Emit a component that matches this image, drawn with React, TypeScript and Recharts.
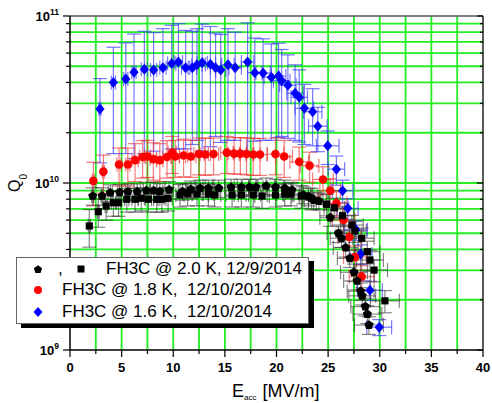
import React from 'react';
import { ScatterChart, Scatter, XAxis, YAxis, CartesianGrid, ErrorBar } from 'recharts';

const FONT = '"Liberation Sans", Arial, sans-serif';

// axis ticks, grid
const xTicks = [0, 2.5, 5, 7.5, 10, 12.5, 15, 17.5, 20, 22.5, 25, 27.5, 30, 32.5, 35, 37.5, 40];
const xLabels = [0, 5, 10, 15, 20, 25, 30, 35, 40];
const xGrid = [2.5, 5, 7.5, 10, 12.5, 15, 17.5, 20, 22.5, 25, 27.5, 30, 32.5, 35, 37.5];
const yDecades = [1e9, 1e10, 1e11];
const yTicks = [1e9, 2e9, 3e9, 4e9, 5e9, 6e9, 7e9, 8e9, 9e9, 1e10, 2e10, 3e10, 4e10, 5e10, 6e10, 7e10, 8e10, 9e10, 1e11];
const yGrid = [2e9, 3e9, 4e9, 5e9, 6e9, 7e9, 8e9, 9e9, 1e10, 2e10, 3e10, 4e10, 5e10, 6e10, 7e10, 8e10, 9e10];

// FH3C @ 2.0 K (pentagons)
const k20aE = [2.2, 3.1, 3.9, 4.8, 5.6, 6.5, 7.4, 8.1, 8.7, 9.6, 10.9, 11.7, 12.6, 13.4, 14.4, 15.6, 16.6, 17.4, 18.0, 19.0, 19.9, 20.8, 21.5, 22.6, 23.1, 23.6, 24.1, 25.2, 26.0, 26.3, 26.7, 27.1, 27.5, 27.8, 28.15, 28.3, 28.6, 28.8, 28.95];
const k20aQ = [8.36e9, 8.36e9, 8.75e9, 8.8e9, 8.87e9, 8.87e9, 9.0e9, 9.0e9, 8.9e9, 9.1e9, 8.9e9, 9.17e9, 9.3e9, 9.3e9, 9.3e9, 9.43e9, 9.43e9, 9.43e9, 9.43e9, 9.6e9, 9.43e9, 9.3e9, 9.08e9, 8.5e9, 8.3e9, 7.9e9, 7.8e9, 6.2e9, 5.0e9, 4.67e9, 4.1e9, 3.54e9, 2.92e9, 2.59e9, 2.25e9, 2.11e9, 1.82e9, 1.64e9, 1.41e9];
const k20aErrQ = [1.0e9, 1.0e9, 1.0e9, 1.0e9, 1.0e9, 1.0e9, 1.1e9, 1.1e9, 1.0e9, 1.1e9, 1.0e9, 1.1e9, 1.1e9, 1.1e9, 1.1e9, 1.1e9, 1.1e9, 1.1e9, 1.1e9, 1.1e9, 1.1e9, 1.1e9, 1.0e9, 1.0e9, 1.0e9, 0.9e9, 0.9e9, 0.7e9, 0.6e9, 0.55e9, 0.5e9, 0.42e9, 0.35e9, 0.3e9, 0.27e9, 0.25e9, 0.22e9, 0.2e9, 0.17e9];
const k20aErrE = [0.1, 0.1, 0.2, 0.2, 0.2, 0.3, 0.3, 0.3, 0.3, 0.4, 0.4, 0.5, 0.5, 0.5, 0.6, 0.6, 0.7, 0.7, 0.7, 0.8, 0.8, 0.8, 0.9, 0.9, 0.9, 0.9, 1.0, 1.0, 1.1, 1.1, 1.2, 1.2, 1.3, 1.3, 1.3, 1.3, 1.4, 1.4, 1.4];

// FH3C @ 2.0 K (squares)
const k20bE = [1.87, 2.74, 3.5, 4.2, 4.7, 5.5, 6.3, 6.9, 7.6, 8.4, 8.9, 9.5, 10.65, 11.4, 12.3, 13.4, 14.0, 15.7, 16.6, 17.75, 18.6, 19.9, 20.8, 21.4, 22.4, 23.4, 24.85, 25.6, 26.4, 27.3, 27.6, 28.25, 28.8, 29.05, 29.45, 30.5];
const k20bQ = [5.53e9, 6.73e9, 7.28e9, 7.62e9, 7.62e9, 7.99e9, 7.99e9, 8.1e9, 7.99e9, 7.99e9, 7.99e9, 8.1e9, 8.48e9, 8.59e9, 8.59e9, 8.59e9, 8.48e9, 8.48e9, 8.48e9, 8.48e9, 8.36e9, 8.48e9, 8.59e9, 8.59e9, 8.36e9, 8.1e9, 7.46e9, 7.11e9, 6.37e9, 5.6e9, 5.16e9, 4.67e9, 3.88e9, 3.46e9, 3.01e9, 1.97e9];
const k20bErrQ = [1.4e9, 1.3e9, 1.3e9, 1.3e9, 1.3e9, 1.3e9, 1.3e9, 1.3e9, 1.3e9, 1.3e9, 1.3e9, 1.3e9, 1.3e9, 1.3e9, 1.3e9, 1.3e9, 1.3e9, 1.3e9, 1.3e9, 1.3e9, 1.3e9, 1.3e9, 1.3e9, 1.3e9, 1.3e9, 1.2e9, 1.1e9, 1.0e9, 0.9e9, 0.8e9, 0.75e9, 0.7e9, 0.6e9, 0.5e9, 0.45e9, 0.3e9];
const k20bErrE = [0.1, 0.1, 0.1, 0.2, 0.2, 0.2, 0.3, 0.3, 0.3, 0.3, 0.4, 0.4, 0.4, 0.5, 0.5, 0.5, 0.6, 0.6, 0.7, 0.7, 0.7, 0.8, 0.8, 0.8, 0.9, 0.9, 1.0, 1.0, 1.1, 1.1, 1.1, 1.2, 1.2, 1.3, 1.3, 1.4];

// FH3C @ 1.8 K
const k18E = [2.26, 3.23, 4.75, 5.6, 6.3, 7.04, 7.5, 8.07, 8.7, 9.4, 9.9, 10.2, 11.0, 11.7, 12.5, 13.1, 13.9, 15.2, 15.9, 16.5, 17.1, 17.75, 18.4, 19.9, 20.75, 22.2, 23.2, 24.5, 25.2, 25.8, 26.5, 27.05, 27.6, 28.25];
const k18Q = [1.03e10, 1.17e10, 1.29e10, 1.29e10, 1.37e10, 1.43e10, 1.44e10, 1.39e10, 1.37e10, 1.43e10, 1.52e10, 1.44e10, 1.46e10, 1.44e10, 1.49e10, 1.48e10, 1.49e10, 1.52e10, 1.5e10, 1.5e10, 1.49e10, 1.48e10, 1.48e10, 1.49e10, 1.44e10, 1.34e10, 1.27e10, 1.05e10, 0.9e10, 0.755e10, 0.6e10, 0.475e10, 0.36e10, 0.275e10];
const k18ErrQ = [0.3e10, 0.3e10, 0.33e10, 0.33e10, 0.35e10, 0.36e10, 0.36e10, 0.35e10, 0.35e10, 0.36e10, 0.38e10, 0.36e10, 0.37e10, 0.36e10, 0.37e10, 0.37e10, 0.37e10, 0.38e10, 0.37e10, 0.37e10, 0.37e10, 0.37e10, 0.37e10, 0.37e10, 0.36e10, 0.3e10, 0.26e10, 0.2e10, 0.16e10, 0.13e10, 0.1e10, 0.08e10, 0.06e10, 0.045e10];
const k18ErrE = [0.1, 0.1, 0.2, 0.2, 0.3, 0.3, 0.3, 0.3, 0.3, 0.4, 0.4, 0.4, 0.4, 0.5, 0.5, 0.5, 0.5, 0.6, 0.6, 0.6, 0.7, 0.7, 0.7, 0.8, 0.8, 0.9, 0.9, 1.0, 1.0, 1.0, 1.1, 1.1, 1.1, 1.2];

// FH3C @ 1.6 K
const k16E = [2.9, 4.2, 5.4, 6.2, 7.2, 8.1, 9.0, 9.85, 10.5, 11.2, 11.85, 12.3, 12.8, 13.6, 14.1, 14.6, 15.3, 16.0, 17.2, 17.9, 18.7, 19.5, 20.2, 20.5, 21.1, 21.8, 22.2, 22.7, 23.5, 24.0, 24.96, 25.8, 26.4, 26.9, 27.7, 28.15, 29.05, 29.95];
const k16Q = [2.77e10, 4.0e10, 4.2e10, 4.6e10, 4.8e10, 4.75e10, 4.9e10, 5.2e10, 5.3e10, 4.9e10, 4.9e10, 5.1e10, 5.25e10, 5.15e10, 4.9e10, 4.75e10, 5.1e10, 4.9e10, 5.3e10, 4.58e10, 4.55e10, 4.3e10, 4.37e10, 4.1e10, 3.85e10, 3.45e10, 3.26e10, 2.8e10, 2.67e10, 2.19e10, 1.67e10, 1.21e10, 0.9e10, 0.705e10, 0.524e10, 0.376e10, 0.228e10, 0.137e10];
const k16ErrQ = [1.45e10, 2.5e10, 2.7e10, 3.2e10, 3.3e10, 3.2e10, 3.5e10, 3.6e10, 3.7e10, 3.3e10, 3.2e10, 3.3e10, 3.7e10, 3.5e10, 3.0e10, 3.0e10, 3.3e10, 3.1e10, 3.8e10, 2.8e10, 2.75e10, 2.5e10, 2.5e10, 2.2e10, 2.0e10, 1.65e10, 1.5e10, 1.1e10, 1.0e10, 0.65e10, 0.38e10, 0.24e10, 0.14e10, 0.1e10, 0.07e10, 0.05e10, 0.03e10, 0.015e10];
const k16ErrE = [0.1, 0.2, 0.2, 0.2, 0.3, 0.3, 0.3, 0.4, 0.4, 0.4, 0.4, 0.5, 0.5, 0.5, 0.5, 0.5, 0.6, 0.6, 0.6, 0.7, 0.7, 0.7, 0.7, 0.8, 0.8, 0.8, 0.8, 0.9, 0.9, 0.9, 1.1, 0.8, 1.0, 1.0, 1.1, 1.1, 1.2, 1.2];

const rows = (e: number[], q: number[], eq: number[], ee: number[]) =>
  e.map((x, i) => ({ x, y: q[i], ey: eq[i], ex: ee[i] }));

const pentData = rows(k20aE, k20aQ, k20aErrQ, k20aErrE);
const squareData = rows(k20bE, k20bQ, k20bErrQ, k20bErrE);
const redData = rows(k18E, k18Q, k18ErrQ, k18ErrE);
const blueData = rows(k16E, k16Q, k16ErrQ, k16ErrE);

const pentPoints = (cx: number, cy: number, r: number) =>
  [0, 1, 2, 3, 4]
    .map((i) => {
      const a = -Math.PI / 2 + (i * 2 * Math.PI) / 5;
      return `${cx + r * Math.cos(a)},${cy + r * Math.sin(a)}`;
    })
    .join(' ');

const Pentagon = (p: any) => <polygon points={pentPoints(p.cx, p.cy, 4.8)} fill="#000" />;
const Square = (p: any) => <rect x={p.cx - 3.6} y={p.cy - 3.6} width={7.2} height={7.2} fill="#000" />;
const Dot = (p: any) => <circle cx={p.cx} cy={p.cy} r={4.3} fill="#ff0000" />;
const Diamond = (p: any) => (
  <polygon points={`${p.cx},${p.cy - 5.5} ${p.cx + 4.6},${p.cy} ${p.cx},${p.cy + 5.5} ${p.cx - 4.6},${p.cy}`} fill="#0000ff" />
);

const isMajorY = (v: number) => yDecades.includes(v);

const BottomTick = ({ x, y, payload }: any) => {
  const major = xLabels.includes(payload.value);
  return (
    <g>
      <line x1={x} y1={y} x2={x} y2={y + (major ? 7 : 4)} stroke="#000" strokeWidth={1.2} />
      {major && (
        <text x={x} y={y + 21.5} textAnchor="middle" fontSize={13} fontWeight="bold" fontFamily={FONT} fill="#000">
          {payload.value}
        </text>
      )}
    </g>
  );
};

const TopTick = ({ x, y, payload }: any) => {
  const major = xLabels.includes(payload.value);
  return <line x1={x} y1={y} x2={x} y2={y + (major ? 5 : 3)} stroke="#555" strokeWidth={1.2} />;
};

const LeftTick = ({ x, y, payload }: any) => {
  const major = isMajorY(payload.value);
  const exp = Math.round(Math.log10(payload.value));
  return (
    <g>
      <line x1={x - (major ? 7 : 4)} y1={y} x2={x} y2={y} stroke="#000" strokeWidth={1.2} />
      {major && (
        <text x={x - 11} y={y + 4.5} textAnchor="end" fontSize={13} fontWeight="bold" fontFamily={FONT} fill="#000">
          10
          <tspan dy={-6} fontSize={8.5}>
            {exp}
          </tspan>
        </text>
      )}
    </g>
  );
};

const RightTick = ({ x, y, payload }: any) => {
  const major = isMajorY(payload.value);
  return <line x1={x - (major ? 6 : 3)} y1={y} x2={x} y2={y} stroke="#000" strokeWidth={1.2} />;
};

const YTitle = () => (
  <text transform="translate(20,192) rotate(-90)" fontSize={16} fontFamily={FONT} fill="#000">
    Q
    <tspan dy={7} fontSize={10}>
      0
    </tspan>
  </text>
);

const XTitle = () => (
  <text x={232} y={397} fontSize={18} fontFamily={FONT} fill="#000">
    E
    <tspan dy={3} fontSize={8}>
      acc
    </tspan>
    <tspan dy={-3} dx={6}>
      [MV/m]
    </tspan>
  </text>
);

const legendRow = (top: number): React.CSSProperties => ({
  position: 'absolute',
  top,
  left: 0,
  height: 20,
  width: '100%',
});

const LegendBox = () => (
  <div
    style={{
      position: 'absolute',
      left: 16,
      top: 257,
      width: 291,
      height: 65,
      border: '1px solid #666',
      background: '#fff',
      boxShadow: '5px 4px 0 #000',
      fontFamily: FONT,
      fontSize: 17,
      lineHeight: '20px',
      whiteSpace: 'pre',
      color: '#000',
    }}
  >
    <div style={legendRow(1)}>
      <svg width={12} height={12} style={{ position: 'absolute', left: 15, top: 4 }}>
        <polygon points={pentPoints(6, 6.5, 4.3)} fill="#000" />
      </svg>
      <span style={{ position: 'absolute', left: 41 }}>,</span>
      <svg width={12} height={12} style={{ position: 'absolute', left: 58, top: 4 }}>
        <rect x={2.5} y={2.5} width={7} height={7} fill="#000" />
      </svg>
      <span style={{ position: 'absolute', left: 89 }}>FH3C @ 2.0 K, 12/9/2014</span>
    </div>
    <div style={legendRow(22)}>
      <svg width={12} height={12} style={{ position: 'absolute', left: 15, top: 4 }}>
        <circle cx={6} cy={6} r={4} fill="#ff0000" />
      </svg>
      <span style={{ position: 'absolute', left: 45 }}>FH3C @ 1.8 K,  12/10/2014</span>
    </div>
    <div style={legendRow(44)}>
      <svg width={12} height={12} style={{ position: 'absolute', left: 15, top: 4 }}>
        <polygon points="6,1 10.5,6 6,11 1.5,6" fill="#0000ff" />
      </svg>
      <span style={{ position: 'absolute', left: 45 }}>FH3C @ 1.6 K,  12/10/2014</span>
    </div>
  </div>
);

export default function App() {
  return (
    <div style={{ position: 'absolute', left: 0, top: 0, width: 492, height: 403, background: '#fff' }}>
      <ScatterChart width={492} height={403} margin={{ top: 0, right: 0, bottom: 0, left: 0 }}>
        <CartesianGrid
          horizontalValues={yGrid}
          verticalValues={xGrid}
          stroke="#22ee22"
          strokeWidth={1.8}
        />
        <XAxis
          dataKey="x"
          type="number"
          domain={[0, 40]}
          ticks={xTicks}
          interval={0}
          allowDataOverflow
          height={53}
          tickSize={0}
          tickMargin={0}
          tickLine={false}
          axisLine={{ stroke: '#000', strokeWidth: 1.5 }}
          tick={<BottomTick />}
          label={{ content: () => <XTitle /> }}
        />
        <XAxis
          xAxisId="top"
          orientation="top"
          type="number"
          domain={[0, 40]}
          ticks={xTicks}
          interval={0}
          allowDataOverflow
          height={16}
          tickSize={0}
          tickMargin={0}
          tickLine={false}
          axisLine={{ stroke: '#555', strokeWidth: 1.5 }}
          tick={<TopTick />}
        />
        <YAxis
          dataKey="y"
          type="number"
          scale="log"
          domain={[1e9, 1e11]}
          ticks={yTicks}
          interval={0}
          allowDataOverflow
          width={70}
          tickSize={0}
          tickMargin={0}
          tickLine={false}
          axisLine={{ stroke: '#000', strokeWidth: 1.5 }}
          tick={<LeftTick />}
          label={{ content: () => <YTitle /> }}
        />
        <YAxis
          yAxisId="right"
          orientation="right"
          type="number"
          scale="log"
          domain={[1e9, 1e11]}
          ticks={yTicks}
          interval={0}
          allowDataOverflow
          width={9}
          tickSize={0}
          tickMargin={0}
          tickLine={false}
          axisLine={{ stroke: '#222', strokeWidth: 1.5 }}
          tick={<RightTick />}
        />
        <Scatter data={blueData} shape={Diamond} isAnimationActive={false}>
          <ErrorBar dataKey="ey" direction="y" width={7} stroke="#3c3cff" strokeOpacity={0.7} strokeWidth={1.2} />
          <ErrorBar dataKey="ex" direction="x" width={7} stroke="#3c3cff" strokeOpacity={0.7} strokeWidth={1.2} />
        </Scatter>
        <Scatter data={redData} shape={Dot} isAnimationActive={false}>
          <ErrorBar dataKey="ey" direction="y" width={7} stroke="#f03232" strokeOpacity={0.65} strokeWidth={1.2} />
          <ErrorBar dataKey="ex" direction="x" width={7} stroke="#f03232" strokeOpacity={0.65} strokeWidth={1.2} />
        </Scatter>
        <Scatter data={squareData} shape={Square} isAnimationActive={false}>
          <ErrorBar dataKey="ey" direction="y" width={7} stroke="#333" strokeOpacity={0.6} strokeWidth={1.2} />
          <ErrorBar dataKey="ex" direction="x" width={7} stroke="#333" strokeOpacity={0.6} strokeWidth={1.2} />
        </Scatter>
        <Scatter data={pentData} shape={Pentagon} isAnimationActive={false}>
          <ErrorBar dataKey="ey" direction="y" width={7} stroke="#333" strokeOpacity={0.6} strokeWidth={1.2} />
          <ErrorBar dataKey="ex" direction="x" width={7} stroke="#333" strokeOpacity={0.6} strokeWidth={1.2} />
        </Scatter>
      </ScatterChart>
      <LegendBox />
    </div>
  );
}
